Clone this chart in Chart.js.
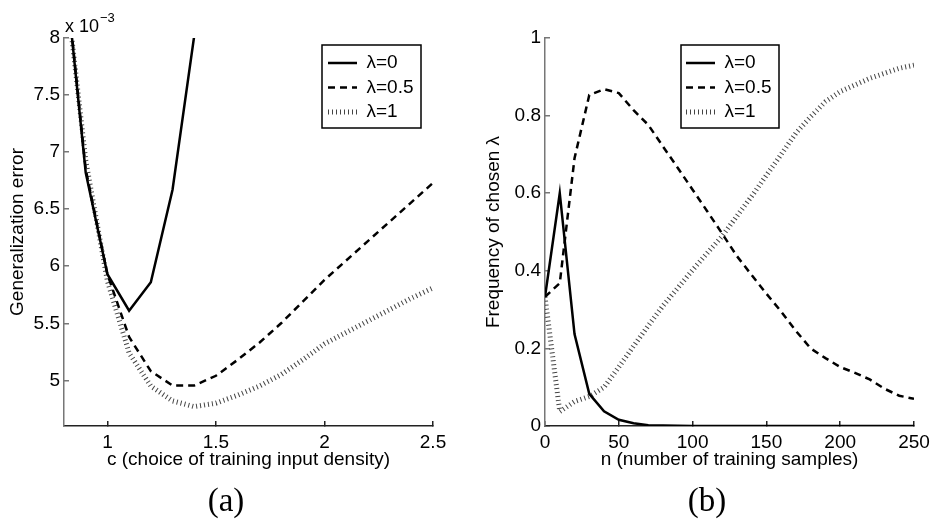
<!DOCTYPE html>
<html>
<head>
<meta charset="utf-8">
<script src="https://cdn.jsdelivr.net/npm/chart.js@4.4.1/dist/chart.umd.min.js"></script>
<style>
html,body{margin:0;padding:0;background:#fff;}
#wrap{position:relative;width:930px;height:521px;overflow:hidden;font-family:"Liberation Sans",Arial,sans-serif;color:#000;}
canvas{position:absolute;top:0;}
#ca{left:0;}
#cb{left:465px;}
.cap{position:absolute;font-family:"Liberation Serif","DejaVu Serif",serif;font-size:33px;line-height:36px;transform:translate(-50%,-50%);white-space:nowrap;}
.mult{position:absolute;white-space:nowrap;}
</style>
</head>
<body>
<div id="wrap">
  <canvas id="ca" width="465" height="521" style="width:465px;height:521px"></canvas>
  <canvas id="cb" width="465" height="521" style="width:465px;height:521px"></canvas>
  <div class="cap" style="left:226px;top:500px">(a)</div>
  <div class="cap" style="left:707px;top:500px">(b)</div>
  <div class="mult" style="left:65px;top:16px;font-size:18px;line-height:20px">x 10</div>
  <div class="mult" style="left:100px;top:10px;font-size:13px;line-height:16px">−3</div>
</div>
<script>
// ---------- Data: panel (a) ----------
const cValues    = [0.8, 0.9, 1.0, 1.1, 1.2, 1.3, 1.4, 1.5, 1.6, 1.7, 1.8, 1.9, 2.0, 2.1, 2.2, 2.3, 2.4, 2.5];
// generalization error, in units of 10^-3
const errLambda0  = [8.69, 6.82, 5.93, 5.61, 5.86, 6.67, 8.02];
const errLambda05 = [8.70, 6.85, 5.93, 5.38, 5.08, 4.955, 4.955, 5.04, 5.18, 5.33, 5.50, 5.69, 5.88, 6.05, 6.22, 6.39, 6.56, 6.73];
const errLambda1  = [8.60, 6.93, 5.87, 5.24, 4.95, 4.82, 4.77, 4.80, 4.87, 4.95, 5.05, 5.18, 5.32, 5.42, 5.52, 5.62, 5.72, 5.81];
const xTicksA = [1, 1.5, 2, 2.5];
const yTicksA = [5, 5.5, 6, 6.5, 7, 7.5, 8];

// ---------- Data: panel (b) ----------
const nValues = [0, 10, 20, 30, 40, 50, 60, 70, 80, 90, 100, 110, 120, 130, 140, 150, 160, 170, 180, 190, 200, 210, 220, 230, 240, 250];
const freqLambda0  = [0.333, 0.60, 0.237, 0.083, 0.038, 0.016, 0.007, 0.002, 0.001, 0.0005, 0, 0, 0, 0, 0, 0, 0, 0, 0, 0, 0, 0, 0, 0, 0, 0];
const freqLambda05 = [0.333, 0.368, 0.69, 0.853, 0.868, 0.858, 0.814, 0.776, 0.72, 0.665, 0.609, 0.553, 0.496, 0.438, 0.389, 0.341, 0.295, 0.245, 0.20, 0.175, 0.152, 0.137, 0.12, 0.096, 0.078, 0.07];
const freqLambda1  = [0.333, 0.037, 0.063, 0.076, 0.10, 0.152, 0.206, 0.259, 0.31, 0.356, 0.402, 0.446, 0.489, 0.541, 0.592, 0.646, 0.70, 0.755, 0.797, 0.836, 0.862, 0.879, 0.896, 0.909, 0.922, 0.93];
const xTicksB = [0, 50, 100, 150, 200, 250];
const yTicksB = [0, 0.2, 0.4, 0.6, 0.8, 1];

const seriesLabels = ['λ=0', 'λ=0.5', 'λ=1'];

Chart.defaults.font.family = "'Liberation Sans', Arial, sans-serif";
Chart.defaults.color = '#000';

const pts = (xs, ys) => ys.map((y, i) => ({x: xs[i], y: y}));

function datasets(xs, s0, s1, s2) {
  return [
    {label: seriesLabels[0], data: pts(xs, s0), borderColor: '#000', borderWidth: 2.5, pointRadius: 0, tension: 0, clip: 0, fill: false},
    {label: seriesLabels[1], data: pts(xs, s1), borderColor: '#000', borderWidth: 2.5, borderDash: [7, 5], pointRadius: 0, tension: 0, clip: 0, fill: false},
    {label: seriesLabels[2], data: pts(xs, s2), borderColor: '#444', borderWidth: 5, borderDash: [1, 3], pointRadius: 0, tension: 0, clip: 0, fill: false}
  ];
}

function legendPlugin(pos, rect) {
  return {
    id: 'legendPlace',
    afterUpdate(chart) {
      const lg = chart.legend;
      if (!lg) return;
      lg.left = pos.x; lg.top = pos.y;
      lg.right = pos.x + rect.w; lg.bottom = pos.y + rect.h;
      lg.width = rect.w; lg.height = rect.h;
      if (lg.adjustHitBoxes) lg.adjustHitBoxes();
    },
    afterDraw(chart) {
      const ctx = chart.ctx;
      ctx.save();
      ctx.setLineDash([]);
      ctx.strokeStyle = '#000';
      ctx.lineWidth = 1.5;
      ctx.strokeRect(rect.x, rect.y, rect.w, rect.h);
      ctx.restore();
    }
  };
}

function legendLabels(chart) {
  const base = Chart.defaults.plugins.legend.labels.generateLabels(chart);
  return base.map((it, i) => {
    const ds = chart.data.datasets[it.datasetIndex !== undefined ? it.datasetIndex : i];
    return Object.assign({}, it, {
      lineDash: ds.borderDash || [],
      lineWidth: ds.borderWidth,
      strokeStyle: ds.borderColor,
      lineCap: 'butt',
      pointStyle: 'line'
    });
  });
}

function makeChart(id, o) {
  const tickFont = {size: 19};
  return new Chart(document.getElementById(id), {
    type: 'line',
    data: {datasets: o.datasets},
    options: {
      responsive: false,
      animation: false,
      events: [],
      layout: {padding: {left: 0, top: 38, right: o.padRight, bottom: 50}},
      plugins: {
        tooltip: {enabled: false},
        legend: {
          position: 'chartArea',
          align: 'start',
          labels: {
            usePointStyle: true, pointStyle: 'line', pointStyleWidth: 29,
            font: {size: 19}, color: '#000', padding: 5.5,
            generateLabels: legendLabels
          }
        }
      },
      scales: {
        x: {
          type: 'linear', min: o.xMin, max: o.xMax,
          afterBuildTicks: s => { s.ticks = o.xTicks.map(v => ({value: v})); },
          afterFit: s => { s.height = 45; s.paddingLeft = 0; s.paddingRight = 0; },
          grid: {drawOnChartArea: false, tickLength: -5, color: '#222', lineWidth: 1.5},
          border: {color: '#222', width: 1.5},
          ticks: {padding: 10, font: tickFont, color: '#000', maxRotation: 0, autoSkip: false, callback: v => String(v)},
          title: {display: true, text: o.xTitle, font: {size: 19}, color: '#000', padding: 0}
        },
        y: {
          type: 'linear', min: o.yMin, max: o.yMax,
          afterBuildTicks: s => { s.ticks = o.yTicks.map(v => ({value: v})); },
          afterFit: s => { s.width = o.yWidth; s.paddingTop = 0; s.paddingBottom = 0; },
          grid: {drawOnChartArea: false, tickLength: -5, color: '#777', lineWidth: 1.5},
          border: {color: '#777', width: 1.5},
          ticks: {padding: 9, font: tickFont, color: '#000', autoSkip: false, callback: v => String(v)},
          title: {display: true, text: o.yTitle, font: {size: 19}, color: '#000', padding: {top: o.yTitlePad, bottom: 0}}
        }
      }
    },
    plugins: [legendPlugin(o.legendPos, o.legendRect)]
  });
}

makeChart('ca', {
  datasets: datasets(cValues, errLambda0, errLambda05, errLambda1),
  xMin: 0.8, xMax: 2.5, yMin: 4.6, yMax: 8,
  xTicks: xTicksA, yTicks: yTicksA,
  xTitle: 'c (choice of training input density)',
  yTitle: 'Generalization error',
  padRight: 32, yWidth: 64, yTitlePad: 6,
  legendPos: {x: 322.5, y: 48},
  legendRect: {x: 322, y: 45, w: 99, h: 83}
});

makeChart('cb', {
  datasets: datasets(nValues, freqLambda0, freqLambda05, freqLambda1),
  xMin: 0, xMax: 250, yMin: 0, yMax: 1,
  xTicks: xTicksB, yTicks: yTicksB,
  xTitle: 'n (number of training samples)',
  yTitle: 'Frequency of chosen λ',
  padRight: 16, yWidth: 80, yTitlePad: 17,
  legendPos: {x: 215.5, y: 48},
  legendRect: {x: 216, y: 45, w: 98, h: 83}
});
</script>
</body>
</html>
